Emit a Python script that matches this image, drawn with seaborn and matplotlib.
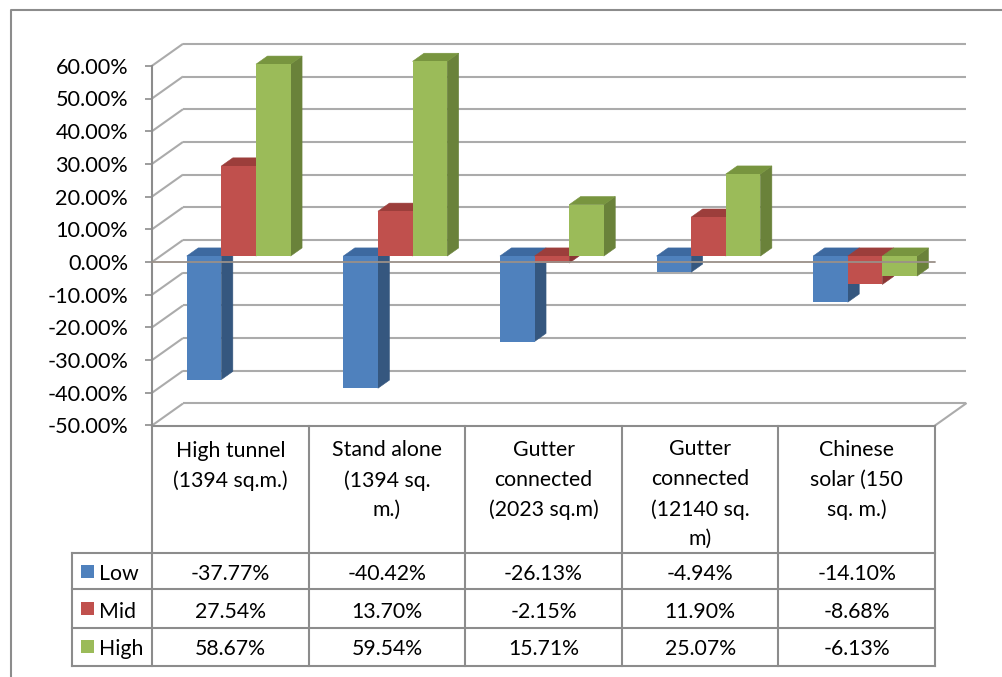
import numpy as np
import pandas as pd
import matplotlib
matplotlib.use("Agg")
import matplotlib.pyplot as plt
import seaborn as sns
from matplotlib.patches import Polygon, Rectangle
from matplotlib.lines import Line2D
from matplotlib.transforms import Affine2D, blended_transform_factory

# ---- data -------------------------------------------------------------
categories = [
    "High tunnel\n(1394 sq.m.)",
    "Stand alone\n(1394 sq.\nm.)",
    "Gutter\nconnected\n(2023 sq.m)",
    "Gutter\nconnected\n(12140 sq.\nm)",
    "Chinese\nsolar (150\nsq. m.)",
]
series = ["Low", "Mid", "High"]
low = [-37.77, -40.42, -26.13, -4.94, -14.10]
mid = [27.54, 13.70, -2.15, 11.90, -8.68]
high = [58.67, 59.54, 15.71, 25.07, -6.13]
y_ticks = [-50, -40, -30, -20, -10, 0, 10, 20, 30, 40, 50, 60]

# ---- styling ----------------------------------------------------------
face_colors = ["#4F81BD", "#C0504D", "#9BBB59"]
side_colors = ["#35577F", "#8A3634", "#6A823A"]
top_colors = ["#3D69A0", "#9C3E3B", "#78953F"]
grid_color = "#ababab"
line_color = "#8c8c8c"
table_fs = 15.3

W, H = 1002, 677
sns.set_theme(style="white")
plt.rcParams["font.family"] = ["Lato", "DejaVu Sans"]

fig = plt.figure(figsize=(W / 100, H / 100), dpi=100)


def fx(px):
    return px / W


def fy(py):
    return 1 - py / H


# front plane of the pseudo-3D box (pixel extents)
left, right, top, bottom = 152, 935, 65.8, 425.5
ax = fig.add_axes([fx(left), fy(bottom), fx(right) - fx(left), fy(top) - fy(bottom)])

df = pd.DataFrame({
    "category": categories * 3,
    "series": np.repeat(series, len(categories)),
    "value": low + mid + high,
})

sns.barplot(data=df, x="category", y="value", hue="series", order=categories,
            hue_order=series, palette=face_colors, width=0.663, saturation=1,
            linewidth=0, legend=False, ax=ax)

ax.set_xlim(-0.5, len(categories) - 0.5)
ax.set_ylim(y_ticks[0], y_ticks[-1])
ax.set_xlabel("")
ax.set_ylabel("")
ax.set_xticks([])
ax.set_yticks(y_ticks)
ax.set_yticklabels([f"{t:.2f}%" for t in y_ticks])
ax.tick_params(axis="y", left=True, length=5.2, width=1.2, color=line_color,
               pad=12, labelsize=15.6, labelcolor="black")
ax.patch.set_alpha(0)
for s in ("top", "right"):
    ax.spines[s].set_visible(False)
for s in ("left", "bottom"):
    ax.spines[s].set_color(line_color)
    ax.spines[s].set_linewidth(1.5)

# depth of the box in data units
px_x = (right - left) / len(categories)
px_y = (bottom - top) / (y_ticks[-1] - y_ticks[0])
DX, DY = 31 / px_x, 22 / px_y
FRONT, BACK = 0.27, 0.64
x_lo, x_hi = -0.5, len(categories) - 0.5

# back wall and side wall gridlines
for t in y_ticks:
    ax.plot([x_lo, x_lo + DX], [t, t + DY], color=grid_color, lw=1.5,
            clip_on=False, zorder=1, solid_capstyle="butt")
    ax.plot([x_lo + DX, x_hi + DX], [t + DY, t + DY], color=grid_color, lw=1.5,
            clip_on=False, zorder=1, solid_capstyle="butt")
# right edge of the floor
ax.plot([x_hi, x_hi + DX], [y_ticks[0], y_ticks[0] + DY], color=grid_color,
        lw=1.5, clip_on=False, zorder=1)

# turn the flat bars into blocks: shift front faces, add side and top faces
bars = []
for k, cont in enumerate(ax.containers):
    for p in cont:
        bars.append((p.get_x(), k, p))
bars.sort(key=lambda b: b[0])

fxo, fyo = FRONT * DX, FRONT * DY
bxo, byo = BACK * DX, BACK * DY
for n, (_, k, p) in enumerate(bars):
    x0 = p.get_x()
    x1 = x0 + p.get_width()
    base = p.get_y()
    v = base + p.get_height()
    lvl = max(base, v)
    z = 3 + n * 0.01
    p.set_transform(Affine2D().translate(fxo, fyo) + ax.transData)
    p.set_clip_on(False)
    p.set_zorder(z + 0.005)
    side = Polygon([(x1 + fxo, base + fyo), (x1 + fxo, v + fyo),
                    (x1 + bxo, v + byo), (x1 + bxo, base + byo)],
                   closed=True, facecolor=side_colors[k], edgecolor=side_colors[k],
                   lw=0.4, clip_on=False, zorder=z)
    topf = Polygon([(x0 + fxo, lvl + fyo), (x1 + fxo, lvl + fyo),
                    (x1 + bxo, lvl + byo), (x0 + bxo, lvl + byo)],
                   closed=True, facecolor=top_colors[k], edgecolor=top_colors[k],
                   lw=0.4, clip_on=False, zorder=z)
    ax.add_patch(side)
    ax.add_patch(topf)

# horizontal category axis at zero, in front of the bars
ax.axhline(0, color="#9a9088", lw=1.3, zorder=20, clip_on=False)

# ---- data table below the plot -----------------------------------------
tb = blended_transform_factory(ax.transData, fig.transFigure)
header_top, row_lines = bottom, [552.7, 589.3, 627.7, 665.7]
legend_left = 72
line_gap = 29.0
tl_kw = dict(color=line_color, lw=1.5, solid_capstyle="projecting")

for i in range(len(categories) + 1):
    xb = x_lo + i
    fig.add_artist(Line2D([xb, xb], [fy(header_top), fy(row_lines[-1])],
                          transform=tb, **tl_kw))
for yl in row_lines:
    fig.add_artist(Line2D([fx(legend_left), fx(right)], [fy(yl), fy(yl)],
                          transform=fig.transFigure, **tl_kw))
fig.add_artist(Line2D([fx(legend_left), fx(legend_left)], [fy(row_lines[0]), fy(row_lines[-1])],
                      transform=fig.transFigure, **tl_kw))

# category names: baseline of the last line, first line starts at 458 px
for i, lab in enumerate(categories):
    n_lines = lab.count("\n") + 1
    fig.text(i, fy(458.3 + line_gap * (n_lines - 1)), lab, transform=tb,
             ha="center", va="baseline", fontsize=table_fs, linespacing=1.61,
             color="black")

baselines = [579.5, 617.7, 655.0]
for r, (name, vals) in enumerate(zip(series, [low, mid, high])):
    yb = baselines[r]
    yc = (row_lines[r] + row_lines[r + 1]) / 2
    fig.add_artist(Rectangle((fx(81), fy(yc + 6.5)), fx(13), 13 / H,
                             transform=fig.transFigure, facecolor=face_colors[r],
                             edgecolor="none"))
    fig.text(fx(99), fy(yb), name, ha="left", va="baseline", fontsize=table_fs,
             color="black")
    for i, v in enumerate(vals):
        fig.text(i, fy(yb), f"{v:.2f}%", transform=tb, ha="center",
                 va="baseline", fontsize=table_fs, color="black")

# chart area border
fig.add_artist(Line2D([fx(11), fx(11), fx(W)], [fy(H), fy(10), fy(10)],
                      transform=fig.transFigure, color=line_color, lw=1.5))

fig.savefig("out.png", dpi=100, facecolor="white")
